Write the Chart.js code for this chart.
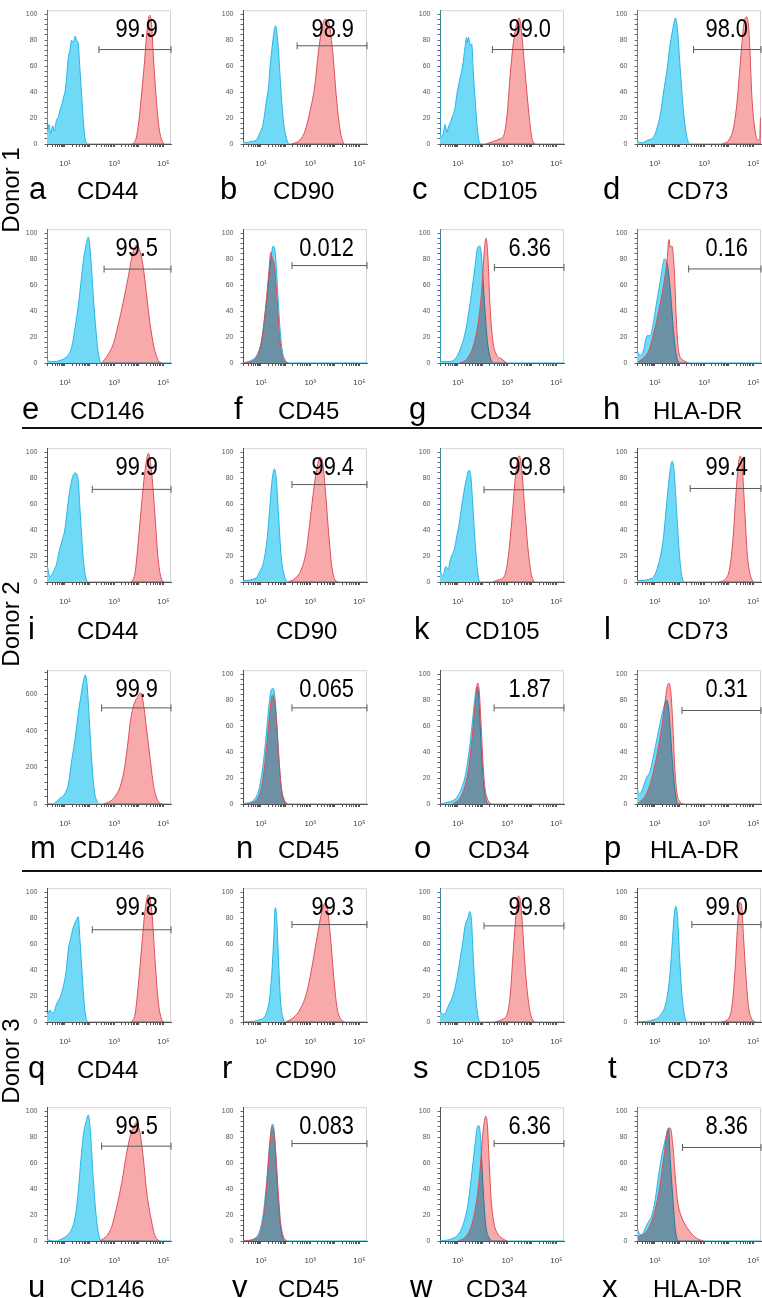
<!DOCTYPE html>
<html><head><meta charset="utf-8">
<script src="https://cdn.jsdelivr.net/npm/chart.js@4.4.0/dist/chart.umd.min.js"></script>
<style>
html,body{margin:0;padding:0;background:#fff;}
#fig{position:relative;width:762px;height:1298px;overflow:hidden;background:#fff;}
#fig canvas{position:absolute;}
#overlay{position:absolute;left:0;top:0;pointer-events:none;}
</style></head><body><div id="fig"></div>
<script>
// ---------- DATA ----------
const panelLetters = ['a','b','c','d','e','f','g','h','i','','k','l','m','n','o','p','q','r','s','t','u','v','w','x'];
const markers = ['CD44','CD90','CD105','CD73','CD146','CD45','CD34','HLA-DR','CD44','CD90','CD105','CD73','CD146','CD45','CD34','HLA-DR','CD44','CD90','CD105','CD73','CD146','CD45','CD34','HLA-DR'];
const percents = ['99.9','98.9','99.0','98.0','99.5','0.012','6.36','0.16','99.9','99.4','99.8','99.4','99.9','0.065','1.87','0.31','99.8','99.3','99.8','99.0','99.5','0.083','6.36','8.36'];
const donors = ['Donor 1','Donor 2','Donor 3'];
const gateStart = [2.38,2.47,2.40,2.57, 2.59,2.26,2.48,2.37, 2.11,2.26,2.06,2.43, 2.49,2.26,2.47,2.10, 2.11,2.26,2.06,2.50, 2.49,2.26,2.47,2.12];
const gateLevel = [72.7,75.6,72.7,72.7, 72.3,75,73.5,72.4, 71.3,75,71,72, 525,74,74,72, 71,75,74,75, 73,75,75,72];
const xTickLabels = {1:'10\u00B9', 3:'10\u00B3', 5:'10\u2075'};
const pctTicks = [0,20,40,60,80,100];
const countTicks = [0,200,400,600];

// histograms: [log10 fluorescence, % of max (or count)]
const ctrlA=[[0.27,103],[0.285,10],[0.35,15],[0.42,8],[0.5,14],[0.57,10],[0.65,18],[0.73,21],[0.8,26],[0.87,30],[0.94,36],[1.0,40],[1.07,52],[1.14,67],[1.2,72],[1.27,80],[1.34,78],[1.41,83],[1.47,80],[1.54,77],[1.61,57],[1.67,40],[1.72,25],[1.81,5],[1.95,0],[5.31,0]];
const stainA=[[3.75,0],[3.9,5],[4.02,20],[4.12,40],[4.22,60],[4.32,84],[4.4,97],[4.45,99],[4.52,92],[4.6,65],[4.7,38],[4.8,16],[4.9,5],[5.02,0]];
const ctrlB=[[0.27,2],[0.4,1],[0.6,2],[0.81,3],[0.94,8],[1.08,15],[1.22,33],[1.32,46],[1.36,57],[1.47,77],[1.59,91],[1.7,75],[1.8,45],[1.9,20],[2.04,4],[2.15,0],[5.31,0]];
const stainB=[[2.24,0],[2.58,3],[2.79,10],[2.99,25],[3.19,45],[3.33,70],[3.47,88],[3.6,96],[3.7,95],[3.78,92],[3.92,70],[4.08,33],[4.24,8],[4.37,0]];
const ctrlC=[[0.27,103],[0.285,10],[0.33,5],[0.4,8],[0.48,15],[0.55,9],[0.61,13],[0.68,16],[0.75,20],[0.88,28],[0.97,40],[1.08,50],[1.19,60],[1.29,75],[1.35,82],[1.38,78],[1.42,82],[1.46,80],[1.5,76],[1.56,77],[1.62,57],[1.72,28],[1.83,5],[1.96,0],[5.31,0]];
const stainC=[[2.14,0],[2.44,2],[2.71,4],[2.87,7],[3.0,23],[3.14,57],[3.28,82],[3.41,94],[3.49,97],[3.59,85],[3.72,57],[3.86,28],[4.0,5],[4.13,0]];
const ctrlD=[[0.27,103],[0.285,2],[0.5,1],[0.7,3],[0.88,4],[1.01,8],[1.11,14],[1.22,23],[1.35,40],[1.49,57],[1.62,77],[1.73,89],[1.83,97],[1.92,87],[2.03,57],[2.16,25],[2.3,5],[2.44,0],[5.31,0]];
const stainD=[[3.73,0],[4.0,3],[4.2,13],[4.34,33],[4.48,65],[4.61,92],[4.72,98],[4.82,87],[4.95,33],[5.09,8],[5.18,3],[5.26,4],[5.29,20],[5.31,20]];
const ctrlE=[[0.27,103],[0.285,2],[0.5,1],[0.8,2],[1.07,5],[1.27,12],[1.41,27],[1.54,44],[1.65,62],[1.75,79],[1.86,91],[1.95,97],[2.05,81],[2.15,52],[2.26,25],[2.36,7],[2.49,0],[5.31,0]];
const stainE=[[2.49,0],[2.7,5],[2.97,15],[3.17,30],[3.37,47],[3.58,67],[3.75,84],[3.92,91],[4.05,86],[4.18,74],[4.32,52],[4.46,30],[4.62,12],[4.79,2],[4.93,0]];
const ctrlF=[[0.27,0],[0.6,2],[0.8,5],[1.0,15],[1.15,35],[1.3,60],[1.4,80],[1.5,90],[1.58,85],[1.68,55],[1.78,25],[1.88,8],[2.0,2],[2.15,0],[5.31,0]];
const stainF=[[0.27,0],[0.7,2],[0.9,8],[1.05,20],[1.2,45],[1.32,70],[1.4,85],[1.47,80],[1.55,75],[1.65,50],[1.75,22],[1.85,7],[1.98,1],[2.1,0]];
const ctrlG=[[0.27,103],[0.285,1],[0.6,1],[0.88,3],[1.08,10],[1.29,23],[1.42,37],[1.56,55],[1.69,74],[1.79,88],[1.87,90],[1.94,86],[2.01,67],[2.1,40],[2.19,18],[2.3,5],[2.47,0],[5.31,0]];
const stainG=[[1.08,0],[1.36,3],[1.62,13],[1.83,32],[1.97,57],[2.06,84],[2.14,96],[2.21,84],[2.3,45],[2.41,18],[2.55,7],[2.78,3],[2.98,0]];
const ctrlH=[[0.27,103],[0.285,10],[0.43,6],[0.54,10],[0.68,21],[0.81,21],[0.95,33],[1.08,48],[1.19,60],[1.29,72],[1.38,80],[1.46,79],[1.55,70],[1.65,50],[1.76,23],[1.87,6],[2.0,0],[5.31,0]];
const stainH=[[0.3,0.5],[0.54,4],[0.74,9],[0.95,23],[1.15,40],[1.35,60],[1.49,79],[1.57,95],[1.62,89],[1.69,90],[1.79,70],[1.87,33],[1.96,9],[2.16,2],[2.37,0]];
const ctrlI=[[0.27,14],[0.39,4],[0.53,8],[0.66,14],[0.77,24],[0.87,31],[1.0,41],[1.14,63],[1.27,78],[1.41,84],[1.54,78],[1.61,56],[1.72,24],[1.81,7],[1.95,0],[5.31,0]];
const stainI=[[3.71,0],[3.85,7],[3.98,31],[4.12,61],[4.25,85],[4.39,99],[4.53,83],[4.66,51],[4.79,17],[4.93,2],[5.03,0]];
const ctrlJ=[[0.27,1],[0.8,3],[0.95,8],[1.1,15],[1.25,33],[1.35,55],[1.45,78],[1.55,87],[1.62,80],[1.72,50],[1.82,20],[1.95,5],[2.1,0],[5.31,0]];
const stainJ=[[2.1,0],[2.4,3],[2.65,10],[2.85,25],[3.0,48],[3.15,72],[3.3,90],[3.4,96],[3.5,93],[3.62,70],[3.75,38],[3.88,12],[4.0,2],[4.15,0]];
const ctrlK=[[0.27,103],[0.285,10],[0.4,5],[0.5,12],[0.6,10],[0.7,18],[0.85,25],[0.95,35],[1.05,45],[1.15,58],[1.25,70],[1.35,80],[1.45,86],[1.52,82],[1.6,60],[1.7,30],[1.8,8],[1.9,0],[5.31,0]];
const stainK=[[2.4,0],[2.7,2],[2.9,5],[3.05,20],[3.2,50],[3.33,80],[3.43,95],[3.5,97],[3.6,85],[3.72,55],[3.85,25],[3.98,6],[4.1,0]];
const ctrlL=[[0.27,1],[0.9,3],[1.05,8],[1.2,18],[1.35,35],[1.45,55],[1.55,75],[1.63,88],[1.7,93],[1.78,85],[1.88,55],[1.98,25],[2.08,6],[2.2,0],[5.31,0]];
const stainL=[[3.6,0],[3.9,3],[4.05,12],[4.18,35],[4.3,70],[4.4,92],[4.47,97],[4.55,88],[4.65,55],[4.75,22],[4.88,5],[5.0,0]];
const ctrlM=[[0.27,2],[0.5,1],[0.66,14],[0.8,31],[1.0,58],[1.14,110],[1.27,233],[1.41,355],[1.54,495],[1.68,617],[1.75,670],[1.83,705],[1.91,635],[1.99,460],[2.09,233],[2.19,75],[2.31,14],[2.42,0],[5.31,0]];
const stainM=[[2.56,0],[2.83,14],[3.03,40],[3.24,93],[3.4,180],[3.53,303],[3.67,460],[3.81,547],[3.94,582],[4.08,608],[4.19,547],[4.32,407],[4.46,250],[4.59,110],[4.73,31],[4.86,5],[4.97,0]];
const ctrlN=[[0.27,0],[0.7,3],[0.9,10],[1.05,25],[1.2,50],[1.32,75],[1.42,88],[1.5,89],[1.58,80],[1.68,50],[1.78,22],[1.88,6],[2.0,1],[2.1,0],[5.31,0]];
const stainN=[[0.27,0],[0.75,2],[0.95,8],[1.1,22],[1.25,48],[1.37,72],[1.47,84],[1.55,80],[1.63,65],[1.72,38],[1.82,14],[1.95,3],[2.08,0]];
const ctrlO=[[0.27,0],[0.5,1],[0.9,4],[1.1,10],[1.3,22],[1.45,40],[1.58,62],[1.68,80],[1.76,90],[1.82,88],[1.88,70],[1.95,42],[2.03,18],[2.12,5],[2.25,0],[5.31,0]];
const stainO=[[0.8,0],[1.1,5],[1.3,15],[1.45,30],[1.58,52],[1.7,78],[1.8,93],[1.86,88],[1.93,65],[2.0,38],[2.08,15],[2.2,4],[2.35,0]];
const ctrlP=[[0.27,103],[0.285,12],[0.4,8],[0.5,12],[0.65,20],[0.8,25],[0.95,38],[1.1,52],[1.25,66],[1.38,76],[1.47,80],[1.55,74],[1.63,55],[1.73,28],[1.83,8],[1.95,0],[5.31,0]];
const stainP=[[0.3,0],[0.4,2],[0.6,6],[0.8,15],[1.0,30],[1.15,45],[1.3,62],[1.42,80],[1.52,92],[1.58,93],[1.65,85],[1.73,60],[1.8,30],[1.88,10],[2.0,2],[2.15,0]];
const ctrlQ=[[0.27,6],[0.39,9],[0.53,7],[0.66,14],[0.8,19],[0.94,28],[1.04,38],[1.14,56],[1.24,65],[1.34,73],[1.45,78],[1.54,81],[1.61,63],[1.72,31],[1.81,9],[1.95,0],[5.31,0]];
const stainQ=[[3.71,0],[3.85,6],[3.98,28],[4.12,58],[4.25,85],[4.39,98],[4.53,85],[4.66,48],[4.79,16],[4.93,2],[5.03,0]];
const ctrlR=[[0.27,0],[1.0,2],[1.2,6],[1.35,18],[1.45,40],[1.52,65],[1.58,88],[1.64,80],[1.72,45],[1.8,15],[1.9,3],[2.0,0],[5.31,0]];
const stainR=[[2.0,0],[2.3,3],[2.6,10],[2.85,22],[3.05,40],[3.25,62],[3.42,80],[3.55,90],[3.63,92],[3.72,85],[3.85,60],[3.98,30],[4.1,10],[4.25,2],[4.4,0]];
const ctrlS=[[0.27,103],[0.285,8],[0.45,6],[0.6,12],[0.75,18],[0.9,28],[1.0,38],[1.1,50],[1.2,62],[1.3,75],[1.4,80],[1.48,85],[1.55,78],[1.62,50],[1.72,20],[1.82,4],[1.92,0],[5.31,0]];
const stainS=[[2.5,0],[2.8,2],[3.0,6],[3.12,20],[3.25,55],[3.37,85],[3.45,97],[3.52,95],[3.62,75],[3.72,45],[3.85,18],[3.98,4],[4.1,0]];
const ctrlT=[[0.27,0],[1.0,2],[1.25,6],[1.45,15],[1.6,35],[1.7,60],[1.78,82],[1.85,89],[1.92,80],[2.0,50],[2.1,20],[2.2,5],[2.32,0],[5.31,0]];
const stainT=[[3.7,0],[4.0,3],[4.15,15],[4.27,45],[4.37,78],[4.45,92],[4.52,90],[4.6,65],[4.7,35],[4.8,12],[4.92,3],[5.05,0]];
const ctrlU=[[0.27,21],[0.29,1],[0.66,0],[0.8,1],[1.07,4],[1.27,9],[1.41,18],[1.54,38],[1.65,63],[1.75,82],[1.86,92],[1.95,97],[2.05,80],[2.15,48],[2.26,21],[2.36,6],[2.49,0],[5.31,0]];
const stainU=[[2.42,0],[2.7,4],[2.9,11],[3.1,26],[3.31,45],[3.51,68],[3.67,82],[3.78,87],[3.89,91],[4.03,85],[4.16,68],[4.32,38],[4.49,18],[4.66,4],[4.84,0]];
const ctrlV=[[0.27,0],[0.75,2],[0.95,8],[1.1,22],[1.25,50],[1.35,75],[1.43,88],[1.48,90],[1.55,82],[1.65,50],[1.75,20],[1.85,5],[1.98,0],[5.31,0]];
const stainV=[[0.27,0],[0.8,2],[1.0,8],[1.15,25],[1.28,55],[1.38,78],[1.46,88],[1.52,85],[1.6,68],[1.7,38],[1.8,14],[1.92,3],[2.05,0]];
const ctrlW=[[0.27,0],[0.8,2],[1.05,6],[1.25,15],[1.42,30],[1.55,50],[1.67,70],[1.76,85],[1.82,89],[1.9,84],[1.97,60],[2.05,32],[2.13,12],[2.25,3],[2.4,0],[5.31,0]];
const stainW=[[1.0,0],[1.3,3],[1.55,12],[1.75,30],[1.9,55],[2.0,80],[2.08,93],[2.13,96],[2.2,88],[2.27,60],[2.35,32],[2.45,15],[2.6,6],[2.8,2],[3.0,0]];
const ctrlX=[[0.27,103],[0.285,10],[0.47,5],[0.61,10],[0.74,15],[0.88,20],[1.01,32],[1.15,51],[1.28,66],[1.42,78],[1.55,87],[1.62,63],[1.73,32],[1.82,10],[1.96,0],[5.31,0]];
const stainX=[[0.3,3],[0.68,8],[0.95,20],[1.15,37],[1.35,63],[1.51,85],[1.62,87],[1.73,73],[1.82,51],[1.91,32],[2.05,20],[2.22,13],[2.43,7],[2.7,2],[2.97,0]];

const controls=[ctrlA,ctrlB,ctrlC,ctrlD,ctrlE,ctrlF,ctrlG,ctrlH,ctrlI,ctrlJ,ctrlK,ctrlL,ctrlM,ctrlN,ctrlO,ctrlP,ctrlQ,ctrlR,ctrlS,ctrlT,ctrlU,ctrlV,ctrlW,ctrlX];
const stains=[stainA,stainB,stainC,stainD,stainE,stainF,stainG,stainH,stainI,stainJ,stainK,stainL,stainM,stainN,stainO,stainP,stainQ,stainR,stainS,stainT,stainU,stainV,stainW,stainX];

// ---------- LAYOUT ----------
const X_MIN = 0.27, X_MAX = 5.31;
const colLeft = [47, 243, 440, 637];
const rowTop = [5, 224, 443, 665, 883, 1102];
const PLOT_W = 124, PLOT_H = 139;
const PADL = 40, PADT = 6, PADR = 12, XAX = 28;
const rowBase = [199, 419, 639, 858, 1078, 1297];
const letterX = [[29,220,412,603],[22,234,409,603],[28,0,414,604],[30,236,414,604],[28,222,413,608],[28,232,410,602]];
const markerX = [[77,273,463,667],[70,278,470,653],[77,276,465,667],[70,278,468,650],[77,275,466,667],[70,278,466,653]];
const donorY = [190, 624, 1061];
const sepY = [428, 871];

const BLUE_FILL='rgb(112,218,246)', BLUE_LINE='rgb(40,180,230)';
const RED_FILL='rgb(248,170,170)', RED_LINE='rgb(222,78,88)';
const FONT = "'Liberation Sans', Arial, Helvetica, sans-serif";

const xTickValues = [];
for (let d = 0; d < 5; d++) for (let k = 1; k <= 9; k++) { const v = d + Math.log10(k); if (v >= X_MIN) xTickValues.push(v); }
xTickValues.push(5);

const boxPlugin = { id:'box', beforeDraw(chart){ const a=chart.chartArea, c=chart.ctx; c.save(); c.strokeStyle='#d4d4d4'; c.lineWidth=1; c.beginPath(); c.moveTo(a.left, a.top+0.5); c.lineTo(a.right-0.5, a.top+0.5); c.lineTo(a.right-0.5, a.bottom); c.stroke(); c.restore(); } };
// fill of the stained histogram is multiplied over the control (overlap turns slate grey); its outline is drawn normally
const blendPlugin = { id:'blend',
  beforeDatasetsDraw(chart){ chart.ctx.globalCompositeOperation='source-over'; },
  beforeDatasetDraw(chart,args){ const ds=chart.data.datasets[args.index]; if(ds.role==='stain') chart.ctx.globalCompositeOperation='source-over'; },
  afterDatasetDraw(chart,args){ const ds=chart.data.datasets[args.index]; chart.ctx.globalCompositeOperation = ds.role==='control' ? 'multiply' : 'source-over'; },
  afterDatasetsDraw(chart){ chart.ctx.globalCompositeOperation='source-over'; } };

const fig = document.getElementById('fig');
const NS='http://www.w3.org/2000/svg';
const svg = document.createElementNS(NS,'svg');
svg.setAttribute('id','overlay'); svg.setAttribute('width','762'); svg.setAttribute('height','1298');
function svgText(txt, attrs){ const t=document.createElementNS(NS,'text'); for(const k in attrs) t.setAttribute(k, attrs[k]); t.textContent=txt; svg.appendChild(t); return t; }

for (let i = 0; i < 24; i++) {
  const r = Math.floor(i/4), c = i%4;
  const L = colLeft[c], T = rowTop[r];
  const W = PADL + PLOT_W + PADR, H = PADT + PLOT_H + XAX;
  const cv = document.createElement('canvas');
  cv.width = W; cv.height = H;
  cv.style.left = (L-PADL)+'px'; cv.style.top = (T-PADT)+'px';
  cv.style.width = W+'px'; cv.style.height = H+'px';
  fig.appendChild(cv);
  const isCount = (i === 12);
  const yMax = isCount ? 731 : 103;
  const yStep = isCount ? 40 : 4;
  const yTop = isCount ? 720 : 100;
  const yLabels = isCount ? countTicks : pctTicks;
  const toPts = arr => arr.map(p => ({x:p[0], y:p[1]}));
  const chart = new Chart(cv, {
    type:'line',
    data:{ datasets:[
      { role:'gate', data:[{x:gateStart[i], y:gateLevel[i]},{x:X_MAX, y:gateLevel[i]}], borderColor:'#5a5a5a', borderWidth:1, pointStyle:'line', pointRotation:90, pointRadius:3.5, pointBorderColor:'#5a5a5a', pointBorderWidth:1, pointHoverRadius:0, fill:false, order:0, clip:8 },
      { role:'stain', data:toPts(stains[i]), borderColor:RED_LINE, backgroundColor:RED_FILL, borderWidth:1, pointRadius:0, fill:'origin', cubicInterpolationMode:'monotone', order:1 },
      { role:'control', data:toPts(controls[i]), borderColor:BLUE_LINE, backgroundColor:BLUE_FILL, borderWidth:1, pointRadius:0, fill:'origin', cubicInterpolationMode:'monotone', order:2 }
    ]},
    options:{
      responsive:false, animation:false, devicePixelRatio:1, events:[],
      layout:{ padding:{ left:0, top:PADT, right:PADR, bottom:0 } },
      plugins:{ legend:{display:false}, tooltip:{enabled:false}, filler:{propagate:false} },
      scales:{
        x:{ type:'linear', min:X_MIN, max:X_MAX,
            afterFit:s=>{ s.height = XAX; },
            afterBuildTicks:s=>{ s.ticks = xTickValues.map(v=>({value:v})); },
            ticks:{ autoSkip:false, maxRotation:0, minRotation:0, padding:12, color:'#444', font:{family:FONT, size:8},
                    callback:v=>{ const k=Math.round(v); return (Math.abs(v-k)<1e-6 && xTickLabels[k]) ? xTickLabels[k] : ''; } },
            grid:{ drawOnChartArea:false, drawTicks:true, tickLength:3, tickColor:'#555', tickWidth:1 },
            border:{ display:true, color:'#555', width:1 } },
        y:{ type:'linear', min:0, max:yMax,
            afterFit:s=>{ s.width = PADL; },
            afterBuildTicks:s=>{ const t=[]; for(let v=0; v<=yTop+1e-9; v+=yStep) t.push({value:v}); s.ticks=t; },
            ticks:{ autoSkip:false, padding:7, color:'#555', font:{family:FONT, size:7},
                    callback:v=> yLabels.includes(Math.round(v)) && Math.abs(v-Math.round(v))<1e-6 ? String(Math.round(v)) : '' },
            grid:{ drawOnChartArea:false, drawTicks:true, tickLength:2.5, tickColor:'#666', tickWidth:1 },
            border:{ display:true, color:'#555', width:1 } }
      }
    },
    plugins:[boxPlugin, blendPlugin]
  });
  const a = chart.chartArea;
  const g = document.createElementNS(NS,'g');
  g.setAttribute('transform', `translate(${(L-PADL)+a.right-13},${(T-PADT)+a.top+27}) scale(0.84,1)`);
  const t = document.createElementNS(NS,'text');
  t.setAttribute('x','0'); t.setAttribute('y','0'); t.setAttribute('text-anchor','end');
  t.setAttribute('font-family', FONT); t.setAttribute('font-size','26'); t.setAttribute('fill','#000');
  t.textContent = percents[i];
  g.appendChild(t); svg.appendChild(g);

  if (panelLetters[i]) svgText(panelLetters[i], { x:letterX[r][c], y:rowBase[r], 'font-family':FONT, 'font-size':'31', fill:'#000' });
  svgText(markers[i], { x:markerX[r][c], y:rowBase[r], 'font-family':FONT, 'font-size':'24', fill:'#000' });
}
donors.forEach((d, k) => {
  svgText(d, { x:0, y:0, transform:`translate(19,${donorY[k]}) rotate(-90)`, 'text-anchor':'middle', 'font-family':FONT, 'font-size':'24', fill:'#000' });
});
sepY.forEach(y => {
  const l = document.createElementNS(NS,'line');
  l.setAttribute('x1','22'); l.setAttribute('x2','762'); l.setAttribute('y1', y); l.setAttribute('y2', y);
  l.setAttribute('stroke','#111'); l.setAttribute('stroke-width','2');
  svg.appendChild(l);
});
fig.appendChild(svg);
</script>
</body></html>
